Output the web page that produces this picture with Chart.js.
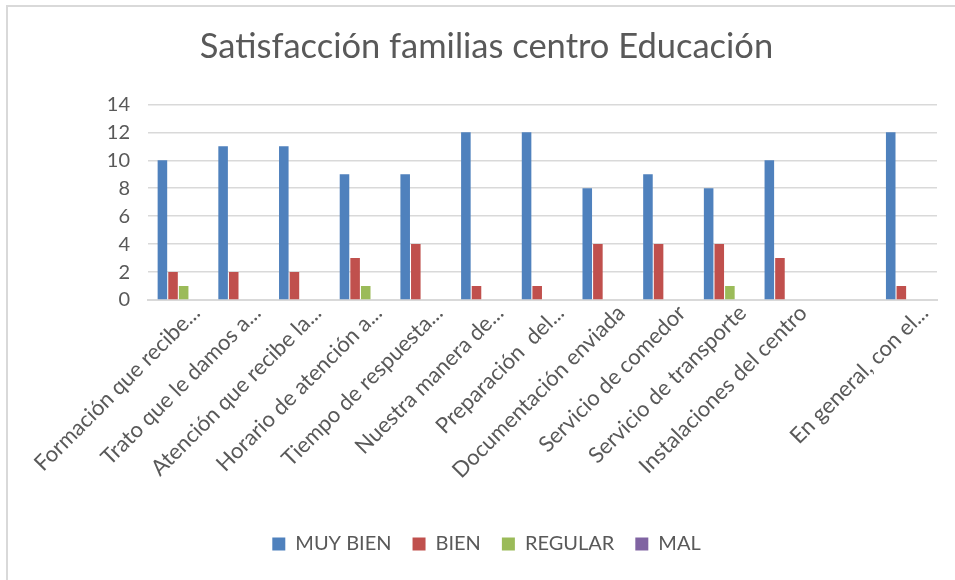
<!DOCTYPE html>
<html>
<head>
<meta charset="utf-8">
<script src="https://cdn.jsdelivr.net/npm/chart.js@4"></script>
<style>
  body { margin: 0; background: #fff; }
  #wrap { position: relative; width: 955px; height: 580px; }
  #frame { position: absolute; left: 6px; top: 5px; width: 960px; height: 590px; border: 2px solid #d9d9d9; box-sizing: border-box; }
  canvas { position: absolute; left: 0; top: 0; }
</style>
</head>
<body>
<div id="wrap">
  <div id="frame"></div>
  <canvas id="myChart" width="955" height="580"></canvas>
</div>
<script>
// categories (one blank slot before the last one, as in the original sheet)
const categorias = [
    "Formación que recibe...",
    "Trato que le damos a...",
    "Atención que recibe la...",
    "Horario de atención a...",
    "Tiempo de respuesta...",
    "Nuestra manera de...",
    "Preparación  del...",
    "Documentación enviada",
    "Servicio de comedor",
    "Servicio de transporte",
    "Instalaciones del centro",
    "",
    "En general, con el..."
];
const muyBien = [10, 11, 11, 9, 9, 12, 12, 8, 9, 8, 10, null, 12];
const bien    = [2, 2, 2, 3, 4, 1, 1, 4, 4, 4, 3, null, 1];
const regular = [1, 0, 0, 1, 0, 0, 0, 0, 0, 1, 0, null, 0];
const mal     = [0, 0, 0, 0, 0, 0, 0, 0, 0, 0, 0, null, 0];
const yTicks  = [0, 2, 4, 6, 8, 10, 12, 14];

const gris = "#595959";
const fuente = "Lato, 'Open Sans', sans-serif";

const ctx = document.getElementById('myChart');

new Chart(ctx, {
    type: 'bar',
    data: {
        labels: categorias,
        datasets: [
            { label: "MUY BIEN", data: muyBien, backgroundColor: "#4f81bd" },
            { label: "BIEN", data: bien, backgroundColor: "#c0504d" },
            { label: "REGULAR", data: regular, backgroundColor: "#9bbb59" },
            { label: "MAL", data: mal, backgroundColor: "#8064a2" }
        ]
    },
    options: {
        responsive: false,
        animation: false,
        layout: { padding: { left: 36, right: 18, top: 0, bottom: 16 } },
        datasets: {
            bar: { categoryPercentage: 0.7, barPercentage: 0.9 }
        },
        plugins: {
            title: {
                display: true,
                text: "Satisfacción familias centro Educación",
                color: gris,
                font: { family: fuente, size: 34.5, weight: 'normal' },
                padding: { top: 26, bottom: 37 }
            },
            legend: {
                position: 'bottom',
                labels: {
                    color: gris,
                    font: { family: fuente, size: 20 },
                    boxWidth: 13,
                    boxHeight: 13,
                    padding: 21
                }
            },
            tooltip: { enabled: false }
        },
        scales: {
            x: {
                grid: { display: false, drawTicks: false },
                border: { color: "#d9d9d9", width: 2 },
                ticks: {
                    color: gris,
                    font: { family: fuente, size: 22 },
                    autoSkip: false,
                    minRotation: 45,
                    maxRotation: 45,
                    labelOffset: 18,
                    padding: 0
                },
                afterFit: s => { s.height = 213; }
            },
            y: {
                min: 0,
                max: 14,
                border: { display: false },
                grid: { color: "#d9d9d9", lineWidth: 1.5, drawTicks: false },
                afterBuildTicks: s => { s.ticks = yTicks.map(v => ({ value: v })); },
                ticks: {
                    color: gris,
                    font: { family: fuente, size: 20 },
                    padding: 18
                },
                afterFit: s => { s.width = 112; }
            }
        }
    }
});
</script>
</body>
</html>
